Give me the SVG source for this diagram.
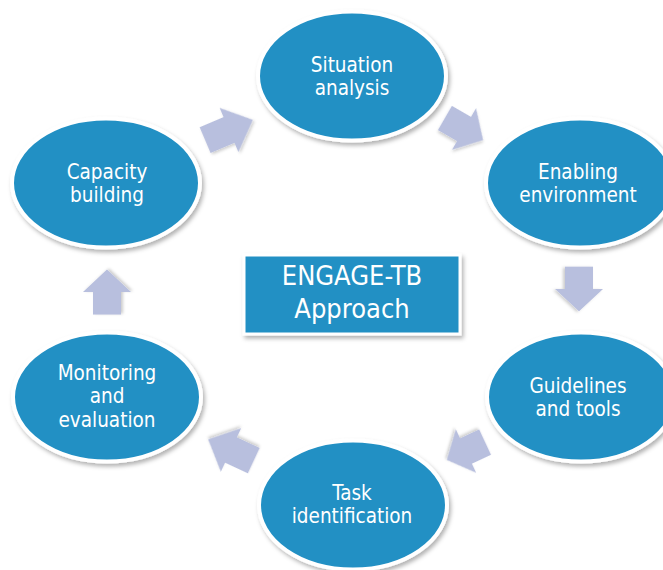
<svg xmlns="http://www.w3.org/2000/svg" xmlns:xlink="http://www.w3.org/1999/xlink" width="663" height="570" viewBox="0 0 663 570">
  <defs>
    <filter id="sh" x="-20%" y="-20%" width="140%" height="150%">
      <feDropShadow dx="2" dy="3" stdDeviation="2" flood-color="#000" flood-opacity="0.3"/>
    </filter>
    <filter id="ash" x="-30%" y="-30%" width="160%" height="160%">
      <feDropShadow dx="1" dy="2" stdDeviation="1.5" flood-color="#000" flood-opacity="0.2"/>
    </filter>
    <path id="arr" d="M-24,-14 L0,-14 L0,-24 L24,0 L0,24 L0,14 L-24,14 Z"/>
  </defs>
  <style>
    .node ellipse, .node rect { fill: #2290C4; stroke: #FFFFFF; stroke-width: 4; filter: url(#sh); }
    .lbl { font-family: "DejaVu Sans Condensed", "DejaVu Sans", sans-serif; font-stretch: condensed; font-size: 20.5px; fill: #FFFFFF; text-anchor: middle; }
    .big { font-size: 27px; }
    .arrow use { fill: #B8BFDE; filter: url(#ash); }
  </style>
  <rect width="663" height="570" fill="#FFFFFF"/>

  <g id="connectors" class="arrow">
    <use xlink:href="#arr" transform="translate(229,130) rotate(-23) scale(1.08,1)"/>
    <use xlink:href="#arr" transform="translate(464,129) rotate(30) scale(0.92,1)"/>
    <use xlink:href="#arr" transform="translate(579,289) rotate(90) scale(0.93,1)"/>
    <use xlink:href="#arr" transform="translate(466,451) rotate(155) scale(0.88,1)"/>
    <use xlink:href="#arr" transform="translate(231,450) rotate(-155) scale(1.05,1)"/>
    <use xlink:href="#arr" transform="translate(107,292) rotate(-90) scale(0.94,1)"/>
  </g>

  <g id="situation-analysis" class="node">
    <ellipse cx="352" cy="76" rx="94" ry="64.5"/>
    <text class="lbl" x="352" y="72">Situation</text>
    <text class="lbl" x="352" y="95">analysis</text>
  </g>
  <g id="enabling-environment" class="node">
    <ellipse cx="580" cy="183" rx="94" ry="64.5"/>
    <text class="lbl" x="578" y="179">Enabling</text>
    <text class="lbl" x="578" y="202">environment</text>
  </g>
  <g id="guidelines-and-tools" class="node">
    <ellipse cx="581" cy="397" rx="94" ry="64.5"/>
    <text class="lbl" x="578" y="393">Guidelines</text>
    <text class="lbl" x="578" y="416">and tools</text>
  </g>
  <g id="task-identification" class="node">
    <ellipse cx="353" cy="505" rx="94" ry="64.5"/>
    <text class="lbl" x="352" y="500">Task</text>
    <text class="lbl" x="352" y="523">identification</text>
  </g>
  <g id="monitoring-and-evaluation" class="node">
    <ellipse cx="107" cy="397" rx="94" ry="64.5"/>
    <text class="lbl" x="107" y="380">Monitoring</text>
    <text class="lbl" x="107" y="403">and</text>
    <text class="lbl" x="107" y="427">evaluation</text>
  </g>
  <g id="capacity-building" class="node">
    <ellipse cx="106" cy="183" rx="94" ry="64.5"/>
    <text class="lbl" x="107" y="179">Capacity</text>
    <text class="lbl" x="107" y="202">building</text>
  </g>
  <g id="engage-tb-approach" class="node">
    <rect x="244" y="255" width="216" height="79" style="stroke-width:3"/>
    <text class="lbl big" x="352" y="285">ENGAGE-TB</text>
    <text class="lbl big" x="352" y="318">Approach</text>
  </g>
</svg>
